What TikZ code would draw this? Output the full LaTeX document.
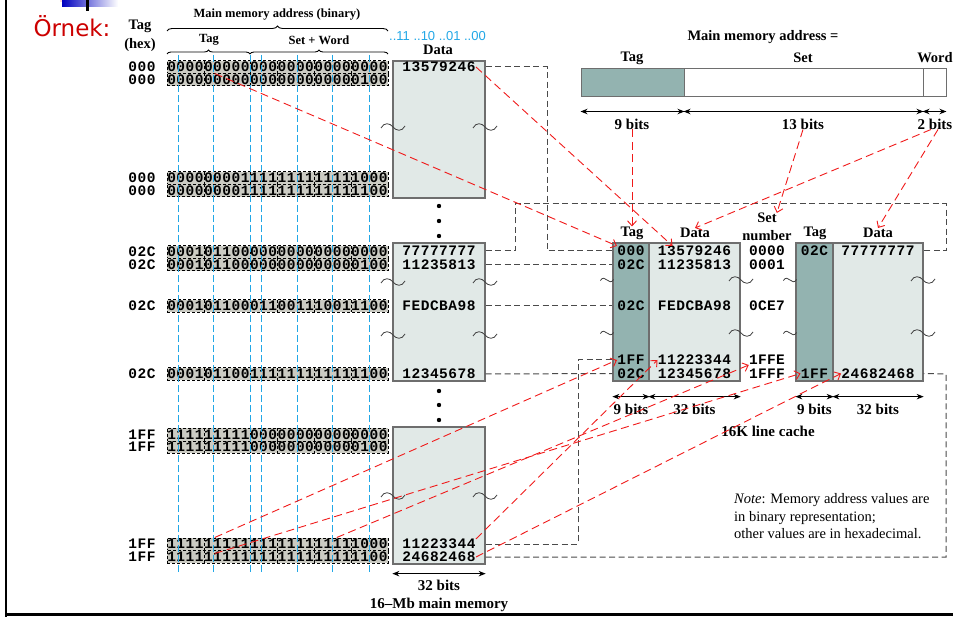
\documentclass[tikz,border=0pt]{standalone}
\usepackage{fontspec}
\setmainfont{Liberation Serif}
\newfontfamily\monoFont{Liberation Mono}
\newfontfamily\sansFont{Liberation Sans}
\newfontfamily\slideFont{DejaVu Sans}
\usetikzlibrary{arrows.meta,decorations.pathreplacing}

% characters set on a fixed pitch (bit strings, hex values)
\newcommand\pitched[2]{\def\charPitch{#1}\edef\pitchedArg{#2}\expandafter\pitchedNext\pitchedArg\relax}
\newcommand\pitchedNext[1]{\ifx#1\relax\else\hbox to \charPitch pt{\hss#1\hss}\expandafter\pitchedNext\fi}

\begin{document}
\begin{tikzpicture}[x=1pt, y=-1pt,
    hexText/.style={font=\monoFont\bfseries\fontsize{14.5}{14.5}\selectfont, inner sep=0pt},
    bitRow/.style={hexText, draw=black, densely dashed, line width=0.5pt, fill=rowFill,
                   minimum width=220.8, minimum height=12.5},
    bitSep/.style={black, densely dashed, line width=0.5pt},
    headText/.style={font=\bfseries\fontsize{14.5}{16}\selectfont, inner sep=0pt},
    smallHead/.style={font=\bfseries\fontsize{12.5}{14}\selectfont, inner sep=0pt},
    bitsText/.style={font=\bfseries\fontsize{15}{17}\selectfont, inner sep=0pt},
    noteText/.style={font=\fontsize{14.5}{17}\selectfont, inner sep=0pt, anchor=base west},
    memBox/.style={draw=boxLine, line width=1.3pt, fill=dataFill, inner sep=0pt},
    tagBox/.style={memBox, fill=tagFill},
    addrBox/.style={draw=boxLine, line width=1pt, inner sep=0pt, minimum height=28},
    guideLine/.style={guideBlue, line width=1pt, dash pattern=on 7pt off 3pt},
    linkLine/.style={linkGrey, line width=1pt, dash pattern=on 6pt off 3.5pt},
    mapArrow/.style={mapRed, line width=0.9pt, dash pattern=on 8pt off 4.5pt,
                     -{Straight Barb[length=5pt,width=9pt]}},
    dimLine/.style={line width=1.2pt, {Stealth[length=7pt,width=5.5pt]}-{Stealth[length=7pt,width=5.5pt]}},
    waveLine/.style={black!75, line width=0.8pt},
    waveMark/.pic={\draw[waveLine] (-12,1) .. controls (-9,-5) and (-3,-4) .. (0,0)
                                   .. controls (3,4) and (9,5) .. (12,-1);}
]
    \definecolor{tagFill}{HTML}{93B3B0}
    \definecolor{dataFill}{HTML}{E1E9E7}
    \definecolor{boxLine}{HTML}{6E6E6E}
    \definecolor{rowFill}{HTML}{CBCBC3}
    \definecolor{guideBlue}{HTML}{22A7E6}
    \definecolor{mapRed}{HTML}{F01A1A}
    \definecolor{slideRed}{HTML}{CC0000}
    \definecolor{linkGrey}{HTML}{4A4A4A}

    \useasboundingbox (0,0) rectangle (953,617);

    % Slide frame
    \fill[red!15] (60,0) rectangle (80,2.5);
    \shade[left color=blue!75!black, right color=white] (62,0) rectangle (118,7);
    \fill[black] (85.5,0) rectangle (88.5,11);
    \draw[line width=2pt] (6,0) -- (6,617);
    \draw[line width=3pt] (5,614.5) -- (953,614.5);
    \node[font=\slideFont\fontsize{23}{23}\selectfont, text=slideRed] (title) at (72,26) {Örnek:};

    % Headers of the address column
    \node[headText] (hdTagHex) at (140,26) {Tag};
    \node[headText] (hdHex) at (140,45) {(hex)};
    \node[smallHead] (hdBinary) at (277,15) {Main memory address (binary)};
    \node[smallHead] (hdTagBin) at (209,40) {Tag};
    \node[smallHead] (hdSetWord) at (319,40) {Set + Word};
    \draw[line width=0.9pt, decorate, decoration={brace, amplitude=5pt}] (167,31) -- (388,31);
    \draw[line width=0.9pt, decorate, decoration={brace, amplitude=4pt}] (167,54) -- (250,54);
    \draw[line width=0.9pt, decorate, decoration={brace, amplitude=4pt}] (250,54) -- (388,54);
    \node[font=\sansFont\fontsize{13}{13}\selectfont, text=guideBlue, anchor=west, inner sep=0pt]
        (wordOffsets) at (389,36) {..11 ..10 ..01 ..00};

    % Main memory
    \node[headText] (hdData) at (438,50) {Data};
    \node[memBox, minimum width=92, minimum height=137] (memA) at (439,129.5) {};
    \node[memBox, minimum width=92, minimum height=138] (memB) at (439,312) {};
    \node[memBox, minimum width=92, minimum height=137] (memC) at (439,495.5) {};
    \foreach \y in {206,221,236,391,405,420}
        \fill (439,\y) circle (2.2pt);
    \foreach \x in {393,485}
        \foreach \y in {127,282,335,496}
            \pic at (\x,\y) {waveMark};

    % Address rows
    \foreach \rowName/\y/\hexVal/\bitVal in {
            rA/67/000/000000000000000000000000,
            rB/79.5/000/000000000000000000000100,
            rC/178/000/000000001111111111111000,
            rD/190.5/000/000000001111111111111100,
            rE/252/02C/000101100000000000000000,
            rF/264.5/02C/000101100000000000000100,
            rG/306/02C/000101100011001110011100,
            rH/374/02C/000101100111111111111100,
            rI/434.5/1FF/111111111000000000000000,
            rJ/447/1FF/111111111000000000000100,
            rK/544/1FF/111111111111111111111000,
            rL/556.5/1FF/111111111111111111111100} {
        \node[bitRow] (\rowName) at (277.4,\y) {\pitched{9.2}{\bitVal}};
        \node[hexText, anchor=east] (hex\rowName) at (156,\y) {\pitched{9.2}{\hexVal}};
        \foreach \k in {4,9,12,16,20}
            \draw[bitSep] ({167+9.2*\k},{\y-6.25}) -- ({167+9.2*\k},{\y+6.25});
    }
    \foreach \x in {178,213,250,261,297,332,369}
        \draw[guideLine] (\x,55) -- (\x,572);

    % Memory words
    \foreach \valName/\y/\val in {mA/67/13579246, mB/251/77777777, mC/264.5/11235813,
            mD/306/FEDCBA98, mE/374/12345678, mF/544/11223344, mG/557/24682468}
        \node[hexText] (\valName) at (439,\y) {\pitched{9.2}{\val}};
    \draw[dimLine] ([yshift=-9pt]memC.south west) -- ([yshift=-9pt]memC.south east);
    \node[bitsText] (memWidth) at (439,585) {32 bits};
    \node[bitsText] (memCaption) at (439,605) {16--Mb main memory};

    % Address format
    \node[headText] (hdAddr) at (763,37) {Main memory address =};
    \node[headText] (hdAddrTag) at (632,58) {Tag};
    \node[headText] (hdAddrSet) at (803,58) {Set};
    \node[headText] (hdAddrWord) at (935,58) {Word};
    \node[addrBox, fill=tagFill, minimum width=103] (aTag) at (632.5,83) {};
    \node[addrBox, fill=white, minimum width=239] (aSet) at (803.5,83) {};
    \node[addrBox, fill=white, minimum width=23] (aWord) at (934.5,83) {};
    \draw[dimLine] ([yshift=-14pt]aTag.south west) -- ([yshift=-14pt]aTag.south east);
    \draw[dimLine] ([yshift=-14pt]aSet.south west) -- ([yshift=-14pt]aSet.south east);
    \draw[dimLine] ([yshift=-14pt]aWord.south west) -- ([yshift=-14pt]aWord.south east);
    \node[bitsText] (bits9) at (632,124) {9 bits};
    \node[bitsText] (bits13) at (803,124) {13 bits};
    \node[bitsText] (bits2) at (935,124) {2 bits};

    % Cache (two ways)
    \node[tagBox, minimum width=36, minimum height=138] (cTagA) at (631,312) {};
    \node[memBox, minimum width=91, minimum height=138] (cDataA) at (694.5,312) {};
    \node[tagBox, minimum width=37, minimum height=138] (cTagB) at (814.5,312) {};
    \node[memBox, minimum width=90, minimum height=138] (cDataB) at (878,312) {};
    \node[headText] (hdTagA) at (632,233) {Tag};
    \node[headText] (hdDataA) at (695,233) {Data};
    \node[headText] (hdSet) at (767,218) {Set};
    \node[headText] (hdNumber) at (767,236) {number};
    \node[headText] (hdTagB) at (815,233) {Tag};
    \node[headText] (hdDataB) at (878,233) {Data};
    \foreach \cName/\y/\tagVal/\dataVal/\setVal in {c1/251/000/13579246/0000,
            c2/264.5/02C/11235813/0001, c3/306/02C/FEDCBA98/0CE7,
            c4/360/1FF/11223344/1FFE, c5/373.5/02C/12345678/1FFF} {
        \node[hexText] (t\cName) at (631,\y) {\pitched{9.2}{\tagVal}};
        \node[hexText] (d\cName) at (694.5,\y) {\pitched{9.2}{\dataVal}};
        \node[hexText] (s\cName) at (767,\y) {\pitched{9}{\setVal}};
    }
    \node[hexText] (wTagA) at (814.5,251) {\pitched{9.2}{02C}};
    \node[hexText] (wDataA) at (878,251) {\pitched{9.2}{77777777}};
    \node[hexText] (wTagB) at (814.5,373.5) {\pitched{9.2}{1FF}};
    \node[hexText] (wDataB) at (878,373.5) {\pitched{9.2}{24682468}};
    \foreach \y in {280,333} {
        \pic[scale=0.55] at (607,\y) {waveMark};
        \pic at (741,\y) {waveMark};
        \pic[scale=0.55] at (790,\y) {waveMark};
        \pic at (923,\y) {waveMark};
    }
    \foreach \boxName in {cTagA,cDataA,cTagB,cDataB}
        \draw[dimLine] ([yshift=-15pt]\boxName.south west) -- ([yshift=-15pt]\boxName.south east);
    \node[bitsText] (cBitsTagA) at (631,409) {9 bits};
    \node[bitsText] (cBitsDataA) at (694.5,409) {32 bits};
    \node[bitsText] (cBitsTagB) at (814.5,409) {9 bits};
    \node[bitsText] (cBitsDataB) at (878,409) {32 bits};
    \node[bitsText] (cCaption) at (768,431) {16K line cache};

    % Where each memory word sits in the cache
    \draw[linkLine] (memA.east |- mA) -| (547,251) -- (cTagA.west |- tc1);
    \draw[linkLine] (memB.east |- mB) -- (515,251) |- (946,204) |- (cDataB.east |- wDataA);
    \draw[linkLine] (memB.east |- mC) -- (cTagA.west |- tc2);
    \draw[linkLine] (memB.east |- mD) -- (cTagA.west |- tc3);
    \draw[linkLine] (memB.east |- mE) -- (cTagA.west |- tc5);
    \draw[linkLine] (memC.east |- mF) -| (578,360) -- (cTagA.west |- tc4);
    \draw[linkLine] (memC.east |- mG) -| (946,374) -- (cDataB.east |- wDataB);

    % Note
    \node[noteText] (note1) at (734,503) {\textit{Note}: Memory address values are};
    \node[noteText] (note2) at (734,521) {in binary representation;};
    \node[noteText] (note3) at (734,538.5) {other values are in hexadecimal.};

    % Red mapping arrows
    \draw[mapArrow] ([xshift=48pt]rA.south west) -- (tc1.north west);
    \draw[mapArrow] (mA.east) -- ([xshift=15pt]dc1.north west);
    \draw[mapArrow] (bits9.south) -- (hdTagA.north);
    \draw[mapArrow] (bits13.south) -- (hdSet.north east);
    \draw[mapArrow] ([xshift=-4pt]bits2.south) -- (hdDataA.north);
    \draw[mapArrow] ([xshift=3pt]bits2.south) -- (hdDataB.north);
    \draw[mapArrow] ([xshift=48pt]rK.north west) -- (tc4.west);
    \draw[mapArrow] ([xshift=48pt,yshift=3pt]rL.west) -- (wTagB.west);
    \draw[mapArrow] ([xshift=170pt]rK.north west) -- (sc4.south west);
    \draw[mapArrow] (mF.north east) -- (dc4.west);
    \draw[mapArrow] (mG.east) -- (wDataB.west);

\end{tikzpicture}
\end{document}
